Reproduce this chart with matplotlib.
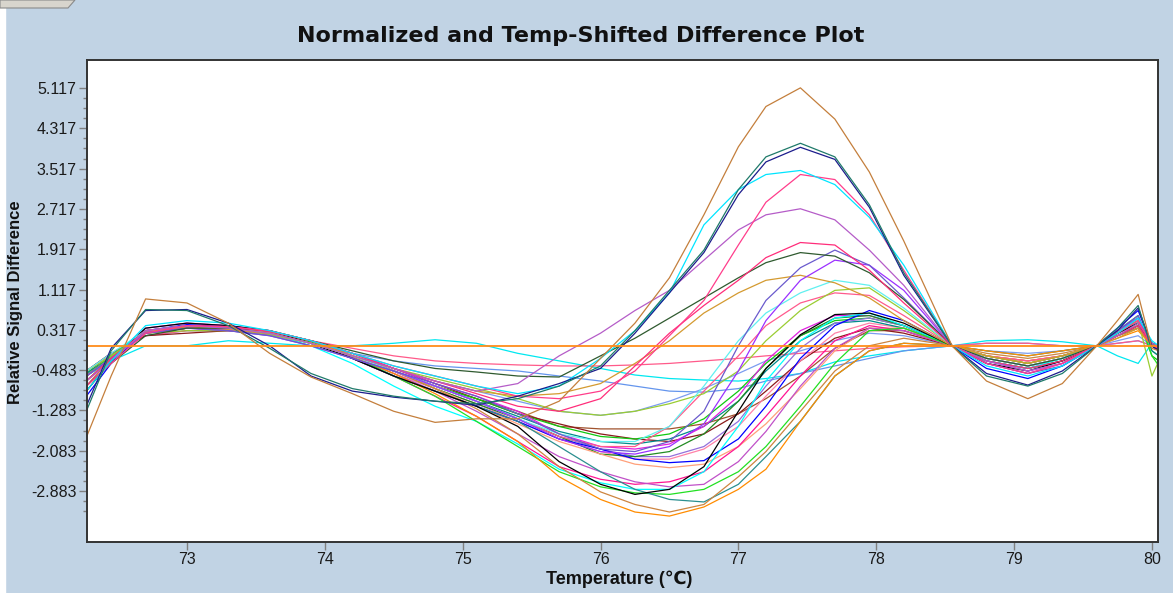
import numpy as np
import matplotlib
matplotlib.use("Agg")
import matplotlib.pyplot as plt
from matplotlib.patches import Polygon, Rectangle

temps = [72.27, 72.45, 72.7, 73.0, 73.3, 73.6, 73.9, 74.2, 74.5, 74.8, 75.1, 75.4, 75.7, 76.0, 76.25, 76.5,
         76.75, 77.0, 77.2, 77.45, 77.7, 77.95, 78.2, 78.55, 78.8, 79.1, 79.35, 79.6, 79.75, 79.9, 80.0, 80.05]

# high positive peak curves
brown_peak = [-1.82, -0.6, 0.93, 0.85, 0.45, -0.15, -0.62, -0.95, -1.3, -1.52, -1.45, -1.45, -1.1, -0.25, 0.45, 1.35,
              2.6, 3.95, 4.75, 5.12, 4.5, 3.45, 2.08, 0.0, -0.7, -1.05, -0.75, 0.0, 0.5, 1.02, -0.05, -0.1]
teal_peak = [-1.3, -0.1, 0.72, 0.7, 0.4, -0.05, -0.55, -0.85, -1.0, -1.1, -1.15, -1.05, -0.8, -0.4, 0.3, 1.1,
             1.9, 3.1, 3.75, 4.02, 3.75, 2.8, 1.45, 0.0, -0.6, -0.8, -0.55, 0.0, 0.35, 0.8, -0.1, -0.2]
navy_peak = [-1.2, -0.05, 0.7, 0.72, 0.45, 0.0, -0.6, -0.9, -1.02, -1.1, -1.18, -1.0, -0.75, -0.45, 0.25, 1.05,
             1.85, 3.0, 3.65, 3.94, 3.7, 2.75, 1.4, 0.0, -0.55, -0.78, -0.5, 0.0, 0.3, 0.75, 0.0, -0.1]
cyan_peak = [-0.9, -0.3, 0.4, 0.5, 0.45, 0.3, 0.1, -0.15, -0.4, -0.6, -0.8, -0.95, -0.8, -0.25, 0.3, 1.05,
             2.4, 3.1, 3.4, 3.48, 3.2, 2.55, 1.6, 0.0, -0.4, -0.6, -0.4, 0.0, 0.25, 0.55, 0.1, 0.0]
pink_peak = [-0.8, -0.35, 0.25, 0.4, 0.38, 0.3, 0.1, -0.15, -0.4, -0.6, -0.8, -1.0, -1.05, -0.9, -0.5, 0.2,
             0.9, 2.0, 2.85, 3.4, 3.3, 2.6, 1.5, 0.0, -0.35, -0.55, -0.35, 0.0, 0.25, 0.5, 0.0, -0.05]
orchid_peak = [-0.7, -0.3, 0.3, 0.4, 0.35, 0.25, 0.05, -0.2, -0.45, -0.7, -0.9, -0.75, -0.2, 0.25, 0.7, 1.1,
               1.7, 2.3, 2.6, 2.72, 2.5, 1.9, 1.2, 0.0, -0.3, -0.5, -0.35, 0.0, 0.2, 0.45, 0.05, 0.0]
crimson_mid = [-0.7, -0.25, 0.3, 0.4, 0.38, 0.28, 0.1, -0.15, -0.45, -0.7, -0.95, -1.2, -1.3, -1.05, -0.4, 0.25,
               0.8, 1.3, 1.75, 2.05, 2.0, 1.5, 0.85, 0.0, -0.3, -0.45, -0.3, 0.0, 0.2, 0.4, 0.0, 0.0]
darkgreen_mid = [-0.8, -0.35, 0.2, 0.35, 0.35, 0.3, 0.1, -0.1, -0.3, -0.45, -0.52, -0.6, -0.62, -0.2, 0.15, 0.55,
                 0.95, 1.35, 1.65, 1.85, 1.78, 1.45, 0.92, 0.0, -0.25, -0.4, -0.25, 0.0, 0.2, 0.4, 0.05, 0.0]
slateblue = [-0.6, -0.25, 0.25, 0.35, 0.3, 0.2, 0.0, -0.25, -0.5, -0.75, -1.0, -1.35, -1.75, -2.05, -2.1, -1.9,
             -1.3, 0.0, 0.9, 1.55, 1.9, 1.6, 0.95, 0.0, -0.35, -0.55, -0.4, 0.0, 0.3, 0.6, 0.0, -0.05]
purple = [-0.6, -0.25, 0.25, 0.35, 0.3, 0.2, 0.0, -0.25, -0.5, -0.8, -1.1, -1.45, -1.85, -2.1, -2.15, -2.0,
          -1.55, -0.5, 0.5, 1.3, 1.7, 1.6, 1.1, 0.0, -0.3, -0.5, -0.35, 0.0, 0.3, 0.55, 0.0, 0.0]
goldenrod = [-0.6, -0.25, 0.25, 0.35, 0.32, 0.25, 0.05, -0.2, -0.45, -0.7, -0.9, -1.0, -0.95, -0.75, -0.35, 0.1,
             0.65, 1.05, 1.3, 1.4, 1.25, 0.95, 0.5, 0.0, -0.2, -0.35, -0.2, 0.0, 0.15, 0.35, 0.0, 0.0]
lightcyan = [-0.5, -0.15, 0.3, 0.4, 0.35, 0.25, 0.05, -0.2, -0.5, -0.8, -1.1, -1.45, -1.75, -1.9, -1.9, -1.6,
             -0.8, 0.1, 0.65, 1.05, 1.3, 1.2, 0.75, 0.0, -0.25, -0.4, -0.25, 0.0, 0.2, 0.4, 0.05, 0.0]
yellowgreen = [-0.5, -0.2, 0.25, 0.3, 0.3, 0.22, 0.05, -0.2, -0.45, -0.65, -0.85, -1.05, -1.3, -1.38, -1.3, -1.15,
               -0.95, -0.5, 0.1, 0.7, 1.1, 1.15, 0.7, 0.0, -0.2, -0.35, -0.2, 0.0, 0.3, 0.5, -0.6, -0.3]
pink_low = [-0.6, -0.25, 0.25, 0.35, 0.33, 0.25, 0.05, -0.2, -0.5, -0.8, -1.1, -1.45, -1.8, -2.0, -2.0, -1.6,
            -0.9, -0.2, 0.4, 0.85, 1.05, 1.0, 0.6, 0.0, -0.2, -0.3, -0.2, 0.0, 0.2, 0.4, 0.0, 0.0]

# curves with a deep dip before the melt
black = [-0.9, -0.3, 0.35, 0.45, 0.4, 0.3, 0.05, -0.25, -0.6, -0.9, -1.2, -1.6, -2.3, -2.75, -2.95, -2.85,
         -2.4, -1.3, -0.45, 0.22, 0.62, 0.65, 0.45, 0.0, -0.35, -0.5, -0.3, 0.0, 0.25, 0.45, 0.0, -0.1]
orange = [-0.7, -0.25, 0.3, 0.35, 0.35, 0.28, 0.1, -0.2, -0.55, -0.95, -1.4, -1.9, -2.6, -3.05, -3.3, -3.38,
          -3.2, -2.85, -2.45, -1.5, -0.6, -0.1, 0.05, 0.0, -0.1, -0.2, -0.1, 0.0, 0.15, 0.3, 0.0, 0.0]
peru_low = [-0.8, -0.25, 0.3, 0.38, 0.38, 0.3, 0.1, -0.2, -0.5, -0.85, -1.25, -1.75, -2.4, -2.9, -3.15, -3.3,
            -3.15, -2.6, -2.1, -1.3, -0.5, 0.0, 0.15, 0.0, -0.15, -0.25, -0.15, 0.0, 0.2, 0.35, 0.0, 0.0]
teal_low = [-0.7, -0.25, 0.3, 0.4, 0.35, 0.25, 0.05, -0.25, -0.6, -0.9, -1.2, -1.5, -2.0, -2.5, -2.85, -3.05,
            -3.1, -2.75, -2.2, -1.5, -0.6, -0.1, 0.05, 0.0, -0.1, -0.2, -0.1, 0.0, 0.2, 0.35, 0.05, 0.0]
lime = [-0.6, -0.2, 0.3, 0.38, 0.35, 0.28, 0.08, -0.2, -0.6, -1.0, -1.5, -2.0, -2.5, -2.8, -2.92, -2.95,
        -2.85, -2.5, -2.0, -1.2, -0.35, 0.3, 0.35, 0.0, -0.2, -0.35, -0.2, 0.0, 0.3, 0.6, -0.2, -0.4]
cyan_low = [-0.7, -0.25, 0.3, 0.4, 0.35, 0.25, 0.0, -0.35, -0.8, -1.2, -1.5, -1.95, -2.45, -2.72, -2.85, -2.85,
            -2.5, -1.6, -0.7, 0.1, 0.55, 0.65, 0.4, 0.0, -0.3, -0.45, -0.25, 0.0, 0.25, 0.45, -0.1, -0.2]
orchid_low = [-0.6, -0.2, 0.28, 0.36, 0.34, 0.26, 0.06, -0.22, -0.55, -0.9, -1.3, -1.75, -2.2, -2.5, -2.7, -2.8,
              -2.75, -2.3, -1.7, -0.8, -0.05, 0.35, 0.3, 0.0, -0.25, -0.4, -0.25, 0.0, 0.25, 0.5, 0.0, 0.0]
hotpink_low = [-0.7, -0.25, 0.3, 0.4, 0.36, 0.28, 0.06, -0.25, -0.6, -1.0, -1.4, -1.9, -2.4, -2.65, -2.75, -2.7,
               -2.5, -2.0, -1.4, -0.6, 0.1, 0.4, 0.3, 0.0, -0.25, -0.4, -0.25, 0.0, 0.3, 0.5, 0.0, 0.0]

# curves with a medium dip
blue = [-1.0, -0.35, 0.3, 0.42, 0.38, 0.28, 0.05, -0.25, -0.6, -0.9, -1.2, -1.5, -1.85, -2.05, -2.25, -2.32,
        -2.28, -1.85, -1.2, -0.25, 0.4, 0.7, 0.5, 0.0, -0.45, -0.65, -0.4, 0.0, 0.35, 0.7, 0.0, -0.1]
salmon = [-0.5, -0.2, 0.25, 0.35, 0.33, 0.25, 0.05, -0.2, -0.5, -0.85, -1.2, -1.55, -1.9, -2.15, -2.35, -2.42,
          -2.35, -2.0, -1.55, -0.85, -0.1, 0.35, 0.35, 0.0, -0.2, -0.3, -0.2, 0.0, 0.2, 0.35, 0.0, 0.0]
forestgreen = [-0.6, -0.25, 0.28, 0.38, 0.36, 0.28, 0.08, -0.2, -0.5, -0.85, -1.15, -1.45, -1.8, -2.15, -2.2, -2.1,
               -1.75, -1.1, -0.45, 0.2, 0.55, 0.6, 0.4, 0.0, -0.3, -0.45, -0.3, 0.0, 0.25, 0.5, 0.05, 0.0]
magenta = [-0.8, -0.25, 0.35, 0.45, 0.4, 0.3, 0.1, -0.15, -0.45, -0.75, -1.0, -1.3, -1.75, -2.0, -2.05, -1.95,
           -1.6, -1.0, -0.3, 0.3, 0.6, 0.6, 0.4, 0.0, -0.35, -0.55, -0.35, 0.0, 0.3, 0.55, 0.0, -0.05]
mediumpurple = [-0.6, -0.25, 0.28, 0.36, 0.34, 0.26, 0.06, -0.22, -0.5, -0.8, -1.1, -1.45, -1.8, -2.05, -2.2, -2.2,
                -2.0, -1.5, -0.8, -0.05, 0.45, 0.55, 0.4, 0.0, -0.3, -0.45, -0.3, 0.0, 0.3, 0.55, 0.0, 0.0]
darkcyan = [-0.55, -0.2, 0.28, 0.36, 0.34, 0.26, 0.06, -0.2, -0.5, -0.8, -1.1, -1.4, -1.7, -1.9, -1.95, -1.85,
            -1.6, -1.1, -0.5, 0.1, 0.45, 0.5, 0.35, 0.0, -0.25, -0.4, -0.25, 0.0, 0.25, 0.45, 0.0, 0.0]
lightpink = [-0.6, -0.2, 0.3, 0.38, 0.35, 0.27, 0.07, -0.22, -0.55, -0.85, -1.15, -1.5, -1.85, -2.1, -2.25, -2.25,
             -2.05, -1.6, -1.0, -0.3, 0.25, 0.45, 0.35, 0.0, -0.2, -0.35, -0.2, 0.0, 0.25, 0.4, 0.0, 0.0]
green = [-0.55, -0.2, 0.27, 0.35, 0.33, 0.25, 0.06, -0.2, -0.5, -0.8, -1.05, -1.35, -1.6, -1.8, -1.85, -1.75,
         -1.45, -0.9, -0.35, 0.2, 0.5, 0.55, 0.4, 0.0, -0.3, -0.45, -0.3, 0.0, 0.3, 0.55, -0.2, -0.3]
maroon = [-0.5, -0.15, 0.2, 0.25, 0.3, 0.28, 0.1, -0.15, -0.45, -0.75, -1.05, -1.35, -1.55, -1.75, -1.85, -1.9,
          -1.75, -1.35, -0.9, -0.3, 0.15, 0.35, 0.25, 0.0, -0.2, -0.3, -0.2, 0.0, 0.2, 0.35, 0.0, 0.0]
sienna = [-0.6, -0.2, 0.25, 0.35, 0.33, 0.25, 0.05, -0.2, -0.5, -0.8, -1.05, -1.3, -1.6, -1.65, -1.65, -1.65,
          -1.55, -1.35, -1.05, -0.6, -0.05, 0.3, 0.3, 0.0, -0.2, -0.35, -0.2, 0.0, 0.2, 0.4, 0.0, 0.0]

# nearly flat curves
cyan_flat = [-0.6, -0.3, 0.0, 0.0, 0.1, 0.05, 0.0, 0.0, 0.05, 0.12, 0.05, -0.15, -0.3, -0.45, -0.58, -0.65,
             -0.68, -0.7, -0.65, -0.55, -0.32, -0.2, -0.1, 0.0, 0.1, 0.12, 0.08, 0.0, -0.2, -0.35, 0.05, 0.0]
cornflower = [-0.5, -0.15, 0.2, 0.3, 0.3, 0.22, 0.05, -0.15, -0.3, -0.4, -0.45, -0.5, -0.6, -0.7, -0.8, -0.9,
              -0.92, -0.85, -0.7, -0.55, -0.4, -0.25, -0.1, 0.0, 0.05, 0.05, 0.0, 0.0, 0.05, 0.1, 0.0, 0.0]
cornflower_dip = [-0.6, -0.2, 0.25, 0.35, 0.33, 0.25, 0.05, -0.2, -0.45, -0.7, -0.9, -1.1, -1.3, -1.38, -1.3, -1.1,
                  -0.85, -0.55, -0.3, -0.1, 0.1, 0.25, 0.2, 0.0, -0.1, -0.15, -0.1, 0.0, 0.1, 0.2, 0.0, 0.0]
pink_flat = [-0.5, -0.15, 0.2, 0.3, 0.3, 0.25, 0.1, -0.05, -0.2, -0.3, -0.35, -0.38, -0.4, -0.4, -0.38, -0.35,
             -0.3, -0.25, -0.2, -0.15, -0.1, -0.05, -0.02, 0.0, 0.05, 0.05, 0.0, 0.0, 0.05, 0.1, 0.0, 0.0]

# reference sample, flat at zero
reference = [0.0] * len(temps)

curves = [
    (cyan_flat, "#00e8f0"), (cornflower, "#6495ed"), (cornflower_dip, "#7b9cf0"), (pink_flat, "#ff5a8a"),
    (sienna, "#a0522d"), (maroon, "#8b1a1a"), (green, "#10c810"), (lightpink, "#ff82a8"),
    (darkcyan, "#008b8b"), (mediumpurple, "#9370db"), (magenta, "#e020e0"), (forestgreen, "#228b22"),
    (salmon, "#ffa07a"), (blue, "#0000ff"), (hotpink_low, "#ff1493"), (orchid_low, "#c050c8"),
    (cyan_low, "#00ffff"), (lime, "#22e022"), (teal_low, "#2a8f8f"), (peru_low, "#cd8540"),
    (orange, "#ff8c00"), (black, "#000000"), (pink_low, "#ff5a8c"), (yellowgreen, "#9acd32"),
    (lightcyan, "#60f0f0"), (goldenrod, "#d49a30"), (purple, "#9b30ff"), (slateblue, "#6a5acd"),
    (darkgreen_mid, "#2f5a2f"), (crimson_mid, "#ff2d7a"), (orchid_peak, "#b55cc8"), (pink_peak, "#ff3d8b"),
    (cyan_peak, "#00e5ff"), (navy_peak, "#1c1c8c"), (teal_peak, "#1f7a6a"), (brown_peak, "#c47f3c"),
]

yticks = [-2.883, -2.083, -1.283, -0.483, 0.317, 1.117, 1.917, 2.717, 3.517, 4.317, 5.117]
xticks = [73, 74, 75, 76, 77, 78, 79, 80]

bg = "#c1d3e4"
fig = plt.figure(figsize=(11.73, 5.93), dpi=100, facecolor=bg)

# small tab in the top-left corner and white strip at left edge
fig.patches.append(Rectangle((0, 0), 5 / 1173, 1, transform=fig.transFigure, color="white", zorder=0))
fig.patches.append(Polygon([(0, 1), (75 / 1173, 1), (68 / 1173, 1 - 8 / 593), (0, 1 - 8 / 593)],
                           closed=True, transform=fig.transFigure, facecolor="#d8d5cd",
                           edgecolor="#8a8a8a", lw=0.8, zorder=1))

ax = fig.add_axes([87 / 1173, 51 / 593, 1071 / 1173, 482 / 593])
ax.set_facecolor("white")

for values, color in curves:
    ax.plot(temps, values, color=color, lw=0.9)
ax.plot(temps, reference, color="#ff8c1a", lw=1.3)

ax.set_xlim(72.275, 80.044)
ax.set_ylim(-3.895, 5.673)

ax.set_xticks(xticks)
ax.set_xticklabels([str(t) for t in xticks])
ax.set_yticks(yticks)
ax.set_yticklabels([f"{t:.3f}" for t in yticks])
minor = [t + k * 0.2 for t in yticks for k in (1, 2, 3)] + [-3.083, -3.283]
ax.set_yticks([m for m in minor if m < 5.2], minor=True)

ax.tick_params(axis="both", which="major", direction="out", length=6, width=1, color="#808080",
               labelsize=11.5, labelcolor="#1a1a1a", pad=1.5)
ax.tick_params(axis="y", which="minor", direction="out", length=3, width=1, color="#808080")
for lbl in ax.get_xticklabels() + ax.get_yticklabels():
    lbl.set_family(["Liberation Sans", "DejaVu Sans"])

for s in ax.spines.values():
    s.set_color("#333333")
    s.set_linewidth(1.4)

fig.text(0.495, 0.939, "Normalized and Temp-Shifted Difference Plot", ha="center", va="center",
         fontsize=16, fontweight="bold", family="DejaVu Sans", color="#111111")
fig.text(0.528, 0.024, "Temperature (℃)", ha="center", va="center", fontsize=13, fontweight="bold",
         family=["Liberation Sans", "DejaVu Sans"], color="#111111")
fig.text(0.013, 0.49, "Relative Signal Difference", ha="center", va="center", rotation=90,
         fontsize=12, fontweight="bold", family=["Liberation Sans", "DejaVu Sans"], color="#111111")

fig.savefig("out.png", dpi=100, facecolor=bg)
